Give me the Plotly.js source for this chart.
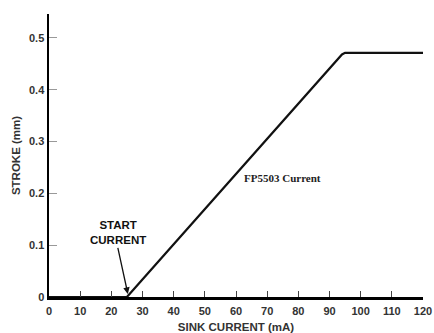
<!DOCTYPE html>
<html><head><meta charset="utf-8">
<script src="https://cdn.plot.ly/plotly-3.0.1.min.js"></script>
<style>html,body{margin:0;padding:0;background:#fff;}#chart{width:434px;height:333px;}</style>
</head><body><div id="chart"></div>
<script>
const sinkCurrent = [0, 25, 94, 95, 120];
const stroke = [0, 0, 0.468, 0.471, 0.471];
const xTicks = [0,10,20,30,40,50,60,70,80,90,100,110,120];
const yTicks = [0,0.1,0.2,0.3,0.4,0.5];
const yTickLabels = ['0','0.1','0.2','0.3','0.4','0.5'];

const font = {family:'Liberation Sans, Arial, sans-serif'};
Plotly.newPlot('chart', [{
  x: sinkCurrent, y: stroke, type:'scatter', mode:'lines',
  line:{color:'#111', width:2.2, shape:'linear'}, hoverinfo:'skip'
}], {
  width:434, height:333,
  margin:{l:49, r:11, t:14, b:36},
  paper_bgcolor:'#fff', plot_bgcolor:'#fff',
  showlegend:false,
  xaxis:{range:[0,120], tickvals:xTicks, ticktext:xTicks.map(String),
    ticks:'inside', ticklen:6, tickwidth:1, tickcolor:'#444', ticklabelstandoff:2,
    showline:true, linecolor:'#000', linewidth:2.5, showgrid:false, zeroline:false,
    tickfont:{family:font.family, size:11, color:'#333', weight:'bold'},
    title:{text:'SINK CURRENT (mA)', font:{family:font.family, size:11.5, color:'#333', weight:'bold'}, standoff:8}},
  yaxis:{range:[0,0.546], tickvals:yTicks, ticktext:yTickLabels,
    ticks:'inside', ticklen:8, tickwidth:1, tickcolor:'#999',
    showline:true, linecolor:'#000', linewidth:2.5, showgrid:false, zeroline:false,
    tickfont:{family:font.family, size:11, color:'#333', weight:'bold'},
    title:{text:'STROKE (mm)', font:{family:font.family, size:11.5, color:'#333', weight:'bold'}, standoff:6}},
  annotations:[
    {x:25.3, y:0.006, xref:'x', yref:'y', text:'START<br>CURRENT', showarrow:true,
     arrowhead:2, arrowsize:1, arrowwidth:1.3, arrowcolor:'#111', ax:-10, ay:-46,
     font:{family:font.family, size:11.5, color:'#111', weight:'bold'}, yanchor:'bottom'},
    {x:75, y:0.23, xref:'x', yref:'y', text:'FP5503 Current', showarrow:false,
     font:{family:'Liberation Serif, Times New Roman, serif', size:11, color:'#222', weight:'bold'}}
  ]
}, {staticPlot:true, displayModeBar:false});
</script></body></html>
